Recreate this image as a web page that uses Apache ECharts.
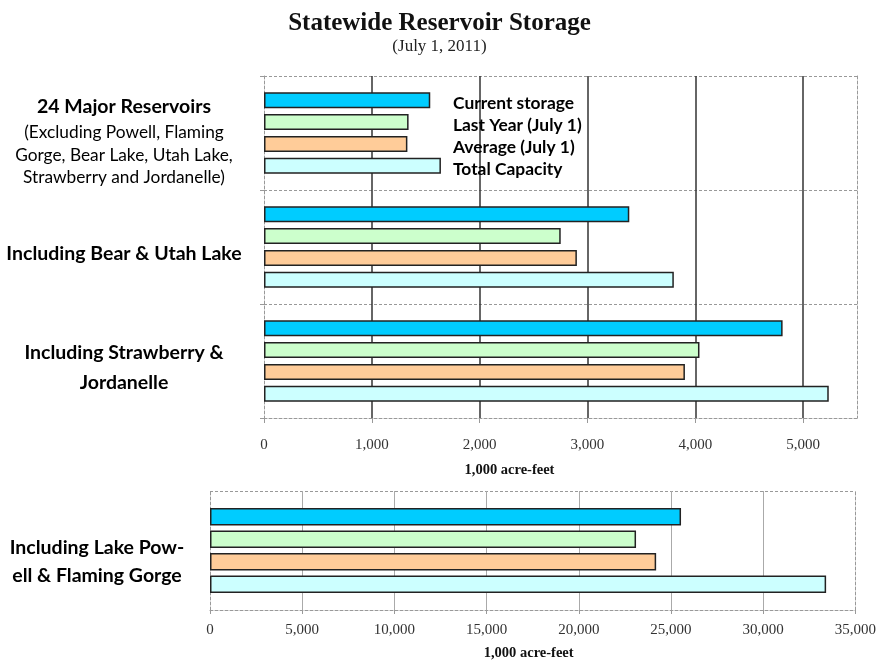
<!DOCTYPE html>
<html><head><meta charset="utf-8">
<script src="https://cdn.jsdelivr.net/npm/echarts@6/dist/echarts.min.js"></script>
<style>html,body{margin:0;padding:0;background:#fff}#c{width:879px;height:662px}</style>
</head><body><div id="c"></div>
<script>
// ---- data ----
const seriesNames = ['Current storage', 'Last Year (July 1)', 'Average (July 1)', 'Total Capacity'];
const seriesColors = ['#00CCFF', '#CCFFCC', '#FFCC99', '#CCFFFF'];

const topCategories = ['24 Major Reservoirs', 'Including Bear & Utah Lake', 'Including Strawberry &\nJordanelle'];
const topCategoryNotes = ['(Excluding Powell, Flaming\nGorge, Bear Lake, Utah Lake,\nStrawberry and Jordanelle)', '', ''];
const topCurrent = [1542, 3388, 4810];
const topLastYear = [1341, 2752, 4039];
const topAverage = [1330, 2902, 3904];
const topCapacity = [1641, 3801, 5238];

const bottomCategories = ['Including Lake Pow-\nell & Flaming Gorge'];
const bottomCurrent = [25545];
const bottomLastYear = [23105];
const bottomAverage = [24195];
const bottomCapacity = [33413];

const axisUnit = '1,000 acre-feet';
const titleText = 'Statewide Reservoir Storage';
const subtitleText = '(July 1, 2011)';

// ---- chart ----
const sans = 'Lato';
const serif = 'Liberation Serif';
function richLines(text, style) {
  return text.split('\n').map(l => '{' + style + '|' + l + '}').join('\n');
}
const dashGray = { color: '#999', type: [3, 2], width: 1 };

const topValues = [topCurrent, topLastYear, topAverage, topCapacity];
const bottomValues = [bottomCurrent, bottomLastYear, bottomAverage, bottomCapacity];

const series = [];
topValues.forEach((d, i) => series.push({
  name: seriesNames[i], type: 'bar', xAxisIndex: 0, yAxisIndex: 0, data: d,
  barWidth: 16, barGap: '36%',
  itemStyle: { color: seriesColors[i], borderColor: '#222', borderWidth: 1.5 },
  emphasis: { disabled: true }
}));
bottomValues.forEach((d, i) => series.push({
  name: seriesNames[i], type: 'bar', xAxisIndex: 1, yAxisIndex: 2, data: d,
  barWidth: 17.5, barGap: '29%',
  itemStyle: { color: seriesColors[i], borderColor: '#222', borderWidth: 1.5 },
  emphasis: { disabled: true }
}));

const tickLabel = { fontFamily: serif, fontSize: 15, color: '#333' };

const option = {
  animation: false,
  backgroundColor: '#fff',
  title: {
    text: titleText, subtext: subtitleText, left: 'center', top: 6, itemGap: 2,
    textStyle: { fontFamily: serif, fontWeight: 'bold', fontSize: 25, color: '#111' },
    subtextStyle: { fontFamily: serif, fontSize: 17, color: '#222' }
  },
  legend: {
    data: seriesNames, orient: 'vertical', left: 447, top: 92, padding: 0,
    itemWidth: 0, itemHeight: 0, itemGap: 0, icon: 'rect', selectedMode: false,
    textStyle: { fontFamily: sans, fontWeight: 'bold', fontSize: 17.4, color: '#000', lineHeight: 22 }
  },
  grid: [
    { left: 264, right: 22, top: 76, height: 342 },
    { left: 210, right: 19, top: 491, height: 122 }
  ],
  xAxis: [
    {
      gridIndex: 0, type: 'value', min: 0, max: 5500, interval: 1000,
      axisLine: { show: true, lineStyle: dashGray },
      axisTick: { show: true, length: 5, lineStyle: { color: '#999' } },
      axisLabel: Object.assign({ margin: 20, showMaxLabel: false }, tickLabel),
      splitLine: { show: true, showMinLine: false, showMaxLine: false, lineStyle: { color: '#333', width: 1.5 } },
      name: axisUnit, nameLocation: 'middle', nameGap: 45,
      nameTextStyle: { fontFamily: serif, fontWeight: 'bold', fontSize: 14.5, color: '#111', padding: [0, 102, 0, 0] }
    },
    {
      gridIndex: 1, type: 'value', min: 0, max: 35000, interval: 5000,
      axisLine: { show: true, lineStyle: dashGray },
      axisTick: { show: true, length: 4, lineStyle: { color: '#999' } },
      axisLabel: Object.assign({ margin: 13 }, tickLabel),
      splitLine: { show: true, showMinLine: false, showMaxLine: false, lineStyle: { color: '#aaa', width: 1 } },
      name: axisUnit, nameLocation: 'middle', nameGap: 36,
      nameTextStyle: { fontFamily: serif, fontWeight: 'bold', fontSize: 14.5, color: '#111', padding: [0, 8, 0, 0] }
    }
  ],
  yAxis: [
    {
      gridIndex: 0, type: 'category', data: topCategories, inverse: true,
      axisLine: { show: true, lineStyle: dashGray },
      axisTick: { show: true, length: 4, lineStyle: { color: '#999' } },
      splitLine: { show: true, lineStyle: dashGray },
      axisLabel: {
        margin: 140, align: 'center', padding: [14, 0, 0, 0],
        formatter: (v, i) => {
          let s = richLines(v, 'b');
          if (topCategoryNotes[i]) s += '\n' + richLines(topCategoryNotes[i], 'n');
          return s;
        },
        rich: {
          b: { fontFamily: sans, fontWeight: 'bold', fontSize: 19.5, lineHeight: 30, color: '#000' },
          n: { fontFamily: sans, fontSize: 17.3, lineHeight: 22.5, color: '#000' }
        }
      }
    },
    {
      gridIndex: 0, type: 'category', data: topCategories, inverse: true, position: 'right',
      axisLine: { show: true, lineStyle: dashGray }, axisTick: { show: false },
      axisLabel: { show: false }, splitLine: { show: false }
    },
    {
      gridIndex: 1, type: 'category', data: bottomCategories,
      axisLine: { show: true, lineStyle: dashGray },
      axisTick: { show: false },
      splitLine: { show: true, lineStyle: dashGray },
      axisLabel: {
        margin: 113, align: 'center', padding: [22, 0, 0, 0],
        formatter: v => richLines(v, 'b'),
        rich: { b: { fontFamily: sans, fontWeight: 'bold', fontSize: 19.5, lineHeight: 28, color: '#000' } }
      }
    },
    {
      gridIndex: 1, type: 'category', data: bottomCategories, position: 'right',
      axisLine: { show: true, lineStyle: dashGray }, axisTick: { show: false },
      axisLabel: { show: false }, splitLine: { show: false }
    }
  ],
  series: series
};

const chart = echarts.init(document.getElementById('c'), null, { renderer: 'canvas' });
chart.setOption(option);
</script>
</body></html>
